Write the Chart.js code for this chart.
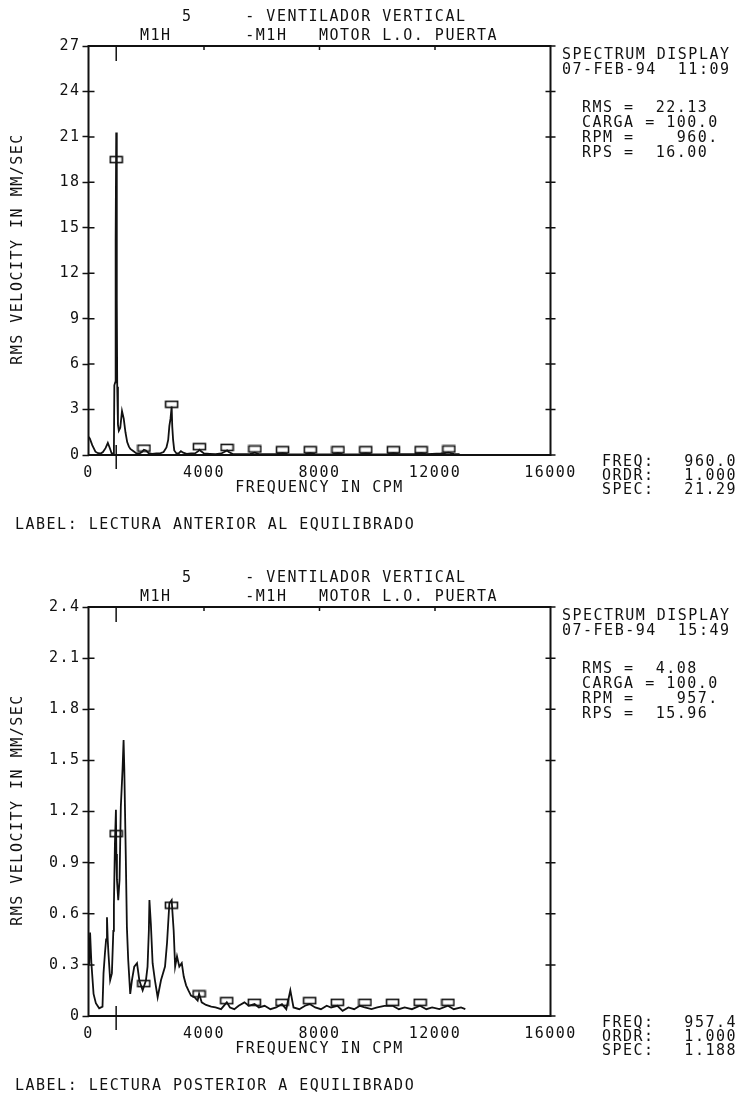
<!DOCTYPE html>
<html><head><meta charset="utf-8">
<script src="https://cdn.jsdelivr.net/npm/chart.js@4"></script>
<style>
html,body{margin:0;padding:0;background:#fff;}
#wrap{position:relative;width:740px;height:1095px;background:#fff;}
.box{position:absolute;left:0;width:740px;}
</style></head><body>
<div id="wrap">
<div class="box" style="top:0;height:561px"><canvas id="c1"></canvas></div>
<div class="box" style="top:561px;height:534px"><canvas id="c2"></canvas></div>
</div>
<script>
// ---------- DATA ----------
const xTickValues = [0, 4000, 8000, 12000, 16000];
const xTickLabels = ['0', '4000', '8000', '12000', '16000'];

const topYTicks = [0, 3, 6, 9, 12, 15, 18, 21, 24, 27];
const topYLabels = ['0', '3', '6', '9', '12', '15', '18', '21', '24', '27'];
const bottomYTicks = [0, 0.3, 0.6, 0.9, 1.2, 1.5, 1.8, 2.1, 2.4];
const bottomYLabels = ['0', '0.3', '0.6', '0.9', '1.2', '1.5', '1.8', '2.1', '2.4'];

// Spectrum before balancing (CPM, mm/s RMS)
const topFreq = [0, 45, 130, 240, 330, 420, 500, 590, 670, 740, 800, 855, 880, 895, 925, 940, 960, 980, 995, 1020, 1050, 1100, 1160, 1220, 1280, 1340, 1400, 1450, 1560, 1650, 1760, 1850, 1920, 1990, 2080, 2200, 2350, 2500, 2600, 2700, 2760, 2800, 2840, 2880, 2900, 2930, 2970, 3040, 3120, 3200, 3280, 3400, 3550, 3700, 3800, 3840, 3900, 4000, 4200, 4400, 4600, 4750, 4800, 4860, 5000, 5300, 5600, 5760, 5900, 6200, 6500, 6720, 6900, 7200, 7500, 7680, 7850, 8200, 8450, 8640, 8800, 9100, 9400, 9600, 9800, 10100, 10350, 10560, 10750, 11000, 11300, 11520, 11700, 11900, 12200, 12480, 12650, 12850];
const topAmp = [1.2, 1.1, 0.65, 0.22, 0.12, 0.1, 0.2, 0.45, 0.8, 0.45, 0.12, 0.1, 0.4, 4.6, 4.8, 14.2, 21.29, 10.2, 4.5, 2.0, 1.6, 1.8, 2.9, 2.4, 1.5, 0.85, 0.55, 0.4, 0.25, 0.12, 0.1, 0.2, 0.35, 0.3, 0.12, 0.08, 0.1, 0.12, 0.2, 0.5, 1.0, 1.9, 2.4, 3.2, 1.9, 1.0, 0.3, 0.12, 0.1, 0.25, 0.15, 0.08, 0.1, 0.12, 0.25, 0.35, 0.25, 0.1, 0.08, 0.06, 0.1, 0.25, 0.3, 0.2, 0.06, 0.05, 0.07, 0.15, 0.06, 0.05, 0.06, 0.12, 0.05, 0.04, 0.06, 0.12, 0.05, 0.04, 0.05, 0.12, 0.05, 0.04, 0.05, 0.1, 0.05, 0.04, 0.06, 0.12, 0.05, 0.06, 0.08, 0.12, 0.06, 0.08, 0.1, 0.15, 0.08, 0.05];
const topHarmFreq = [960, 1920, 2880, 3840, 4800, 5760, 6720, 7680, 8640, 9600, 10560, 11520, 12480];
const topHarmAmp = [19.5, 0.45, 3.35, 0.55, 0.5, 0.4, 0.35, 0.35, 0.35, 0.35, 0.35, 0.35, 0.4];

// Spectrum after balancing
const bottomFreq = [0, 25, 55, 100, 175, 255, 370, 485, 520, 570, 610, 640, 665, 690, 750, 810, 860, 880, 915, 950, 965, 985, 1030, 1075, 1120, 1180, 1215, 1240, 1290, 1330, 1375, 1445, 1505, 1585, 1680, 1760, 1875, 1990, 2045, 2090, 2110, 2160, 2220, 2300, 2395, 2510, 2650, 2720, 2800, 2880, 2950, 3000, 3065, 3145, 3230, 3300, 3380, 3460, 3550, 3670, 3780, 3830, 3920, 4070, 4250, 4400, 4590, 4790, 4900, 5050, 5200, 5400, 5550, 5750, 5900, 6100, 6300, 6500, 6700, 6850, 6990, 7100, 7300, 7500, 7660, 7850, 8050, 8250, 8400, 8620, 8800, 9000, 9200, 9400, 9570, 9800, 10000, 10250, 10530, 10750, 10950, 11200, 11480, 11700, 11900, 12150, 12450, 12650, 12900, 13050];
const bottomAmp = [0.3, 0.31, 0.49, 0.31, 0.13, 0.075, 0.045, 0.055, 0.25, 0.37, 0.45, 0.58, 0.45, 0.37, 0.21, 0.25, 0.5, 0.65, 1.01, 1.21, 0.95, 0.8, 0.68, 0.8, 1.23, 1.45, 1.62, 1.45, 0.95, 0.52, 0.33, 0.13, 0.21, 0.29, 0.31, 0.21, 0.15, 0.21, 0.29, 0.5, 0.68, 0.54, 0.31, 0.21, 0.11, 0.21, 0.29, 0.43, 0.66, 0.68, 0.5, 0.29, 0.35, 0.29, 0.31, 0.23, 0.18, 0.15, 0.12, 0.11, 0.09, 0.13, 0.08, 0.065, 0.055, 0.05, 0.04, 0.08, 0.05, 0.04, 0.06, 0.08, 0.06, 0.07, 0.05, 0.06, 0.04, 0.05, 0.07, 0.04, 0.15, 0.05, 0.04, 0.06, 0.07, 0.05, 0.04, 0.06, 0.05, 0.06, 0.03, 0.05, 0.04, 0.06, 0.05, 0.04, 0.05, 0.06, 0.06, 0.04, 0.05, 0.04, 0.06, 0.04, 0.05, 0.04, 0.06, 0.04, 0.05, 0.04];
const bottomHarmFreq = [957, 1915, 2872, 3830, 4787, 5744, 6702, 7659, 8617, 9574, 10531, 11489, 12446];
const bottomHarmAmp = [1.07, 0.19, 0.65, 0.13, 0.09, 0.08, 0.08, 0.09, 0.08, 0.08, 0.08, 0.08, 0.08];

const topCursor = 960.0;
const bottomCursor = 957.4;

// ---------- STYLE ----------
const INK = '#111111';
const FAM = '"DejaVu Sans Mono", "Liberation Mono", monospace';
const FS = 15;
const LS = '1.5px';

function boxImage() {
  const c = document.createElement('canvas');
  c.width = 15; c.height = 9;
  const g = c.getContext('2d');
  g.strokeStyle = INK; g.lineWidth = 1.6;
  g.strokeRect(1.5, 1.5, 12, 6);
  return c;
}
const BOX = boxImage();

const decor = {
  id: 'decor',
  beforeDraw(chart) {
    const ctx = chart.ctx;
    ctx.save();
    ctx.fillStyle = '#fff';
    ctx.fillRect(0, 0, chart.width, chart.height);
    ctx.restore();
    ctx.letterSpacing = LS;
  },
  afterDraw(chart, args, o) {
    const ctx = chart.ctx;
    const a = chart.chartArea;
    const xs = chart.scales.x, ys = chart.scales.y;
    ctx.save();
    ctx.letterSpacing = LS;
    ctx.strokeStyle = INK;
    ctx.fillStyle = INK;
    // frame
    ctx.lineWidth = 2;
    ctx.strokeRect(a.left, a.top, a.right - a.left, a.bottom - a.top);
    // left inner + right crossing ticks
    ctx.lineWidth = 1.5;
    ctx.beginPath();
    o.yTicks.forEach(v => {
      const y = ys.getPixelForValue(v);
      ctx.moveTo(a.left, y); ctx.lineTo(a.left + 6, y);
      ctx.moveTo(a.right - 5, y); ctx.lineTo(a.right + 5, y);
    });
    // top axis small ticks
    xTickValues.slice(1, -1).forEach(v => {
      const x = xs.getPixelForValue(v);
      ctx.moveTo(x, a.top); ctx.lineTo(x, a.top + 4);
    });
    // cursor marker
    const cx = xs.getPixelForValue(o.cursor);
    ctx.moveTo(cx, a.top); ctx.lineTo(cx, a.top + 15);
    ctx.moveTo(cx, a.bottom - 10); ctx.lineTo(cx, a.bottom + 14);
    ctx.stroke();

    ctx.font = FS + 'px ' + FAM;
    ctx.textBaseline = 'middle';
    ctx.textAlign = 'left';
    ctx.fillText(o.head1, 140, 17);
    ctx.fillText(o.head2, 140, 36);
    o.info.forEach(t => ctx.fillText(t[0], t[1], t[2]));
    ['FREQ:', 'ORDR:', 'SPEC:'].forEach((t, i) => ctx.fillText(t, 602, 462 + i * 14));
    ctx.textAlign = 'right';
    o.cursorVals.forEach((t, i) => ctx.fillText(t, 737, 462 + i * 14));
    ctx.textAlign = 'left';
    ctx.fillText(o.label, 15, 525);
    // axis titles
    ctx.textAlign = 'center';
    ctx.fillText('FREQUENCY IN CPM', (a.left + a.right) / 2, a.bottom + 33);
    ctx.translate(18, 249);
    ctx.rotate(-Math.PI / 2);
    ctx.fillText('RMS VELOCITY IN MM/SEC', 0, 0);
    ctx.restore();
  }
};

function makeChart(id, freq, amp, hf, ha, yTicks, yLabels, ymax, padBottom, deco) {
  const font = { family: FAM, size: FS };
  return new Chart(document.getElementById(id), {
    type: 'line',
    data: {
      datasets: [
        { data: freq.map((f, i) => ({ x: f, y: amp[i] })), borderColor: INK, borderWidth: 1.8,
          pointRadius: 0, tension: 0, fill: false },
        { data: hf.map((f, i) => ({ x: f, y: ha[i] })), showLine: false,
          pointStyle: BOX, pointRadius: 5, borderColor: INK }
      ]
    },
    options: {
      responsive: true, maintainAspectRatio: false, animation: false,
      layout: { padding: { left: 48.5, right: 189.5, top: 46, bottom: padBottom } },
      plugins: { legend: { display: false }, tooltip: { enabled: false }, decor: deco },
      scales: {
        x: {
          type: 'linear', min: 0, max: 16000,
          afterBuildTicks: s => { s.ticks = xTickValues.map(v => ({ value: v })); },
          afterFit: s => { s.height = 30; },
          grid: { display: false }, border: { display: false },
          ticks: { autoSkip: false, maxRotation: 0, padding: 1, color: INK, font,
                   callback: (v) => xTickLabels[xTickValues.indexOf(v)] }
        },
        y: {
          type: 'linear', min: 0, max: ymax,
          afterBuildTicks: s => { s.ticks = yTicks.map(v => ({ value: v })); },
          afterFit: s => { s.width = 40; },
          grid: { display: true, drawOnChartArea: false, drawTicks: true, tickLength: 6,
                  tickColor: INK, tickWidth: 1.5 },
          border: { display: false },
          ticks: { padding: 2, color: INK, font,
                   callback: (v) => yLabels[yTicks.findIndex(t => Math.abs(t - v) < 1e-9)] }
        }
      }
    },
    plugins: [decor]
  });
}

makeChart('c1', topFreq, topAmp, topHarmFreq, topHarmAmp, topYTicks, topYLabels, 27, 76, {
  head1: '    5     - VENTILADOR VERTICAL',
  head2: 'M1H       -M1H   MOTOR L.O. PUERTA',
  info: [['SPECTRUM DISPLAY', 562, 55], ['07-FEB-94  11:09', 562, 70],
         ['RMS =  22.13', 582, 108], ['CARGA = 100.0', 582, 123],
         ['RPM =    960.', 582, 138], ['RPS =  16.00', 582, 153]],
  cursorVals: ['960.0', '1.000', '21.29'],
  label: 'LABEL: LECTURA ANTERIOR AL EQUILIBRADO',
  cursor: topCursor, yTicks: topYTicks
});

makeChart('c2', bottomFreq, bottomAmp, bottomHarmFreq, bottomHarmAmp, bottomYTicks, bottomYLabels, 2.4, 49, {
  head1: '    5     - VENTILADOR VERTICAL',
  head2: 'M1H       -M1H   MOTOR L.O. PUERTA',
  info: [['SPECTRUM DISPLAY', 562, 55], ['07-FEB-94  15:49', 562, 70],
         ['RMS =  4.08', 582, 108], ['CARGA = 100.0', 582, 123],
         ['RPM =    957.', 582, 138], ['RPS =  15.96', 582, 153]],
  cursorVals: ['957.4', '1.000', '1.188'],
  label: 'LABEL: LECTURA POSTERIOR A EQUILIBRADO',
  cursor: bottomCursor, yTicks: bottomYTicks
});
</script>
</body></html>
